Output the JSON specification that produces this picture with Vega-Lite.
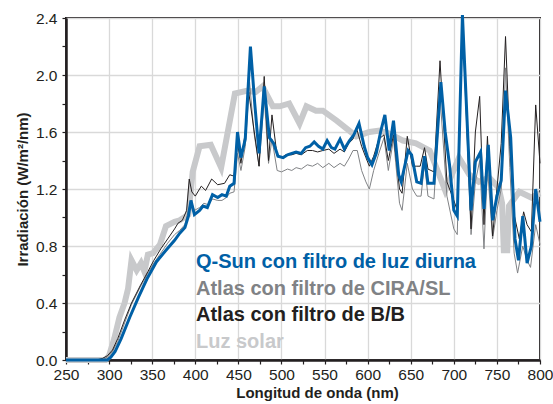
{
  "$schema": "https://vega.github.io/schema/vega-lite/v6.json",
  "width": 474,
  "height": 342,
  "autosize": "none",
  "padding": {"left": 66, "top": 18, "right": 13, "bottom": 44},
  "background": "white",
  "config": {
    "font": "Liberation Sans",
    "view": {"stroke": "#231f20", "strokeWidth": 2},
    "axis": {
      "domainColor": "#231f20",
      "domainWidth": 2.5,
      "tickColor": "#231f20",
      "tickSize": 4,
      "tickWidth": 1.2,
      "labelFont": "Liberation Sans",
      "labelFontSize": 15.5,
      "labelColor": "#231f20",
      "titleFont": "Liberation Sans",
      "titleFontSize": 15,
      "titleFontWeight": "bold",
      "titleColor": "#231f20",
      "gridColor": "#d9d9d9",
      "gridWidth": 1.3
    }
  },
  "datasets": {
    "qsun": [
      {"x":250,"y":0},{"x":298,"y":0},{"x":302,"y":0.02},{"x":307,"y":0.06},{"x":314,"y":0.15},{"x":324,"y":0.30},{"x":334,"y":0.44},{"x":344,"y":0.57},{"x":355,"y":0.69},{"x":366,"y":0.77},{"x":376,"y":0.84},{"x":382,"y":0.89},{"x":388,"y":0.93},{"x":392,"y":1.01},{"x":395,"y":1.12},{"x":399,"y":1.02},{"x":405,"y":1.05},{"x":409,"y":1.08},{"x":414,"y":1.07},{"x":420,"y":1.16},{"x":426,"y":1.14},{"x":431,"y":1.16},{"x":436,"y":1.15},{"x":440,"y":1.22},{"x":445,"y":1.24},{"x":449,"y":1.60},{"x":453,"y":1.42},{"x":458,"y":1.55},{"x":464,"y":2.20},{"x":469,"y":1.80},{"x":474,"y":1.45},{"x":480,"y":1.92},{"x":486,"y":1.56},{"x":491,"y":1.52},{"x":496,"y":1.43},{"x":502,"y":1.42},{"x":507,"y":1.44},{"x":512,"y":1.45},{"x":517,"y":1.46},{"x":523,"y":1.45},{"x":528,"y":1.49},{"x":533,"y":1.50},{"x":538,"y":1.53},{"x":543,"y":1.50},{"x":548,"y":1.48},{"x":553,"y":1.54},{"x":558,"y":1.49},{"x":562,"y":1.48},{"x":568,"y":1.55},{"x":573,"y":1.48},{"x":579,"y":1.54},{"x":584,"y":1.58},{"x":590,"y":1.66},{"x":596,"y":1.50},{"x":600,"y":1.42},{"x":605,"y":1.37},{"x":610,"y":1.45},{"x":615,"y":1.60},{"x":620,"y":1.72},{"x":625,"y":1.47},{"x":630,"y":1.68},{"x":636,"y":1.30},{"x":639,"y":1.25},{"x":647,"y":1.47},{"x":651,"y":1.44},{"x":657,"y":1.25},{"x":662,"y":1.24},{"x":666,"y":1.43},{"x":670,"y":1.24},{"x":677,"y":1.24},{"x":685,"y":1.95},{"x":690,"y":1.60},{"x":695,"y":1.37},{"x":700,"y":1.05},{"x":704,"y":1.01},{"x":710,"y":2.42},{"x":720,"y":1.05},{"x":725,"y":1.39},{"x":731,"y":1.46},{"x":735,"y":1.06},{"x":740,"y":1.51},{"x":745,"y":0.98},{"x":750,"y":1.15},{"x":755,"y":1.26},{"x":760,"y":1.89},{"x":766,"y":1.56},{"x":771,"y":0.85},{"x":775,"y":0.70},{"x":780,"y":1.01},{"x":785,"y":0.68},{"x":790,"y":0.80},{"x":795,"y":1.20},{"x":800,"y":0.97}
    ],
    "bb": [
      {"x":250,"y":0},{"x":285,"y":0},{"x":292,"y":0.01},{"x":298,"y":0.03},{"x":304,"y":0.07},{"x":310,"y":0.15},{"x":318,"y":0.28},{"x":326,"y":0.40},{"x":336,"y":0.52},{"x":345,"y":0.62},{"x":352,"y":0.70},{"x":360,"y":0.78},{"x":368,"y":0.85},{"x":376,"y":0.92},{"x":380,"y":0.96},{"x":385,"y":0.98},{"x":390,"y":1.05},{"x":393,"y":1.27},{"x":396,"y":1.18},{"x":400,"y":1.15},{"x":407,"y":1.22},{"x":412,"y":1.19},{"x":419,"y":1.27},{"x":426,"y":1.23},{"x":434,"y":1.24},{"x":440,"y":1.30},{"x":445,"y":1.29},{"x":449,"y":1.52},{"x":453,"y":1.38},{"x":458,"y":1.60},{"x":462,"y":1.88},{"x":468,"y":1.62},{"x":474,"y":1.36},{"x":480,"y":1.99},{"x":485,"y":1.40},{"x":489,"y":1.72},{"x":495,"y":1.43},{"x":500,"y":1.42},{"x":505,"y":1.44},{"x":512,"y":1.44},{"x":517,"y":1.45},{"x":523,"y":1.44},{"x":530,"y":1.47},{"x":536,"y":1.47},{"x":542,"y":1.46},{"x":548,"y":1.47},{"x":555,"y":1.48},{"x":561,"y":1.45},{"x":568,"y":1.48},{"x":573,"y":1.46},{"x":578,"y":1.52},{"x":583,"y":1.55},{"x":587,"y":1.63},{"x":593,"y":1.50},{"x":598,"y":1.42},{"x":602,"y":1.36},{"x":607,"y":1.43},{"x":613,"y":1.55},{"x":619,"y":1.58},{"x":624,"y":1.40},{"x":630,"y":1.58},{"x":637,"y":1.20},{"x":640,"y":1.17},{"x":646,"y":1.57},{"x":652,"y":1.36},{"x":657,"y":1.36},{"x":661,"y":1.36},{"x":666,"y":1.49},{"x":670,"y":1.34},{"x":677,"y":1.32},{"x":684,"y":2.10},{"x":692,"y":1.25},{"x":700,"y":1.12},{"x":704,"y":1.05},{"x":710,"y":2.42},{"x":720,"y":0.92},{"x":725,"y":1.60},{"x":730,"y":1.85},{"x":735,"y":0.95},{"x":739,"y":1.57},{"x":745,"y":0.87},{"x":750,"y":1.20},{"x":755,"y":1.52},{"x":760,"y":2.27},{"x":765,"y":1.50},{"x":770,"y":1.02},{"x":776,"y":0.85},{"x":781,"y":1.04},{"x":785,"y":0.95},{"x":790,"y":0.90},{"x":795,"y":1.79},{"x":800,"y":1.38}
    ],
    "cira": [
      {"x":250,"y":0},{"x":292,"y":0},{"x":298,"y":0.02},{"x":304,"y":0.06},{"x":310,"y":0.13},{"x":318,"y":0.26},{"x":326,"y":0.39},{"x":336,"y":0.51},{"x":345,"y":0.61},{"x":352,"y":0.68},{"x":360,"y":0.75},{"x":368,"y":0.82},{"x":376,"y":0.88},{"x":382,"y":0.91},{"x":388,"y":0.95},{"x":392,"y":1.05},{"x":395,"y":1.12},{"x":399,"y":1.05},{"x":405,"y":1.07},{"x":410,"y":1.10},{"x":415,"y":1.09},{"x":420,"y":1.13},{"x":426,"y":1.12},{"x":431,"y":1.12},{"x":436,"y":1.14},{"x":440,"y":1.17},{"x":445,"y":1.18},{"x":449,"y":1.45},{"x":453,"y":1.33},{"x":458,"y":1.50},{"x":463,"y":1.95},{"x":468,"y":1.60},{"x":474,"y":1.36},{"x":480,"y":1.85},{"x":485,"y":1.38},{"x":489,"y":1.55},{"x":495,"y":1.33},{"x":500,"y":1.32},{"x":507,"y":1.34},{"x":512,"y":1.33},{"x":517,"y":1.35},{"x":523,"y":1.34},{"x":530,"y":1.37},{"x":536,"y":1.36},{"x":542,"y":1.38},{"x":548,"y":1.35},{"x":555,"y":1.38},{"x":561,"y":1.35},{"x":568,"y":1.38},{"x":573,"y":1.36},{"x":578,"y":1.41},{"x":583,"y":1.47},{"x":588,"y":1.47},{"x":593,"y":1.33},{"x":598,"y":1.25},{"x":602,"y":1.20},{"x":607,"y":1.33},{"x":613,"y":1.45},{"x":619,"y":1.56},{"x":624,"y":1.33},{"x":630,"y":1.55},{"x":637,"y":1.10},{"x":640,"y":1.05},{"x":646,"y":1.38},{"x":652,"y":1.20},{"x":657,"y":1.15},{"x":662,"y":1.15},{"x":666,"y":1.38},{"x":670,"y":1.15},{"x":677,"y":1.13},{"x":684,"y":1.85},{"x":692,"y":1.15},{"x":700,"y":0.92},{"x":704,"y":0.88},{"x":710,"y":2.38},{"x":720,"y":0.88},{"x":725,"y":1.25},{"x":730,"y":1.40},{"x":735,"y":0.78},{"x":739,"y":1.35},{"x":745,"y":0.85},{"x":750,"y":1.05},{"x":755,"y":1.20},{"x":760,"y":2.05},{"x":765,"y":1.35},{"x":770,"y":0.75},{"x":774,"y":0.61},{"x":780,"y":0.80},{"x":785,"y":0.70},{"x":789,"y":0.65},{"x":795,"y":0.95},{"x":800,"y":0.81}
    ],
    "sol": [
      {"x":250,"y":0},{"x":296,"y":0},{"x":300,"y":0.03},{"x":306,"y":0.15},{"x":312,"y":0.30},{"x":318,"y":0.40},{"x":322,"y":0.50},{"x":326,"y":0.70},{"x":332,"y":0.63},{"x":337,"y":0.68},{"x":341,"y":0.62},{"x":345,"y":0.74},{"x":351,"y":0.75},{"x":359,"y":0.81},{"x":366,"y":0.94},{"x":376,"y":0.97},{"x":382,"y":0.98},{"x":392,"y":1.02},{"x":397,"y":1.32},{"x":405,"y":1.50},{"x":418,"y":1.51},{"x":430,"y":1.35},{"x":446,"y":1.87},{"x":461,"y":1.89},{"x":470,"y":1.88},{"x":478,"y":1.92},{"x":490,"y":1.78},{"x":498,"y":1.78},{"x":509,"y":1.80},{"x":521,"y":1.66},{"x":529,"y":1.78},{"x":540,"y":1.75},{"x":548,"y":1.75},{"x":564,"y":1.68},{"x":587,"y":1.57},{"x":602,"y":1.60},{"x":614,"y":1.61},{"x":625,"y":1.59},{"x":641,"y":1.54},{"x":656,"y":1.52},{"x":672,"y":1.47},{"x":690,"y":1.19},{"x":706,"y":1.42},{"x":718,"y":1.30},{"x":729,"y":1.25},{"x":741,"y":1.28},{"x":752,"y":1.21},{"x":756,"y":1.10},{"x":758,"y":0.77},{"x":762,"y":0.77},{"x":764,"y":1.08},{"x":776,"y":1.18},{"x":790,"y":1.14},{"x":800,"y":1.17}
    ]
  },
  "encoding": {
    "x": {
      "field": "x", "type": "quantitative",
      "scale": {"domain": [250, 800], "nice": false, "zero": false},
      "axis": {
        "title": "Longitud de onda (nm)",
        "titleX": 251,
        "values": [250,275,300,325,350,375,400,425,450,475,500,525,550,575,600,625,650,675,700,725,750,775,800],
        "labelExpr": "datum.value % 50 == 0 ? datum.label : ''",
        "gridOpacity": {"condition": {"test": "datum.value % 50 == 0", "value": 1}, "value": 0},
        "labelPadding": 3,
        "labelFlush": false,
        "titlePadding": 3
      }
    },
    "y": {
      "field": "y", "type": "quantitative",
      "scale": {"domain": [0, 2.4], "nice": false},
      "axis": {
        "title": "Irradiación (W/m²/nm)",
        "values": [0,0.2,0.4,0.6,0.8,1.0,1.2,1.4,1.6,1.8,2.0,2.2,2.4],
        "format": ".1f",
        "labelExpr": "round(datum.value*10) % 4 == 0 ? datum.label : ''",
        "gridOpacity": {"condition": {"test": "round(datum.value*10) % 4 == 0", "value": 1}, "value": 0},
        "labelPadding": 5,
        "labelFlush": false,
        "titlePadding": 5
      }
    }
  },
  "layer": [
    {
      "data": {"name": "sol"},
      "mark": {"type": "line", "strokeWidth": 6, "strokeJoin": "miter", "clip": false},
      "encoding": {
        "color": {
          "datum": "Luz solar",
          "type": "nominal",
          "scale": {
            "domain": ["Q-Sun con filtro de luz diurna", "Atlas con filtro de CIRA/SL", "Atlas con filtro de B/B", "Luz solar"],
            "range": ["#0060a6", "#808285", "#231f20", "#c8c9cb"]
          },
          "legend": {
            "title": null,
            "orient": "none",
            "legendX": 110,
            "legendY": 234,
            "symbolOpacity": 0,
            "symbolSize": 1,
            "symbolStrokeWidth": 0,
            "labelFont": "Liberation Sans",
            "labelFontSize": 20,
            "labelFontWeight": "bold",
            "labelLimit": 400,
            "rowPadding": 6.5,
            "padding": 0,
            "labelOffset": 0,
            "encode": {"labels": {"update": {"fill": {"scale": "color", "field": "value"}}}}
          }
        }
      }
    },
    {
      "data": {"name": "cira"},
      "mark": {"type": "line", "strokeWidth": 1, "color": "#6d6e71", "clip": false},
      "encoding": {"color": {"datum": "Atlas con filtro de CIRA/SL", "type": "nominal"}}
    },
    {
      "data": {"name": "bb"},
      "mark": {"type": "line", "strokeWidth": 1, "clip": false},
      "encoding": {"color": {"datum": "Atlas con filtro de B/B", "type": "nominal"}}
    },
    {
      "data": {"name": "qsun"},
      "mark": {"type": "line", "strokeWidth": 3, "clip": false},
      "encoding": {"color": {"datum": "Q-Sun con filtro de luz diurna", "type": "nominal"}}
    }
  ]
}
